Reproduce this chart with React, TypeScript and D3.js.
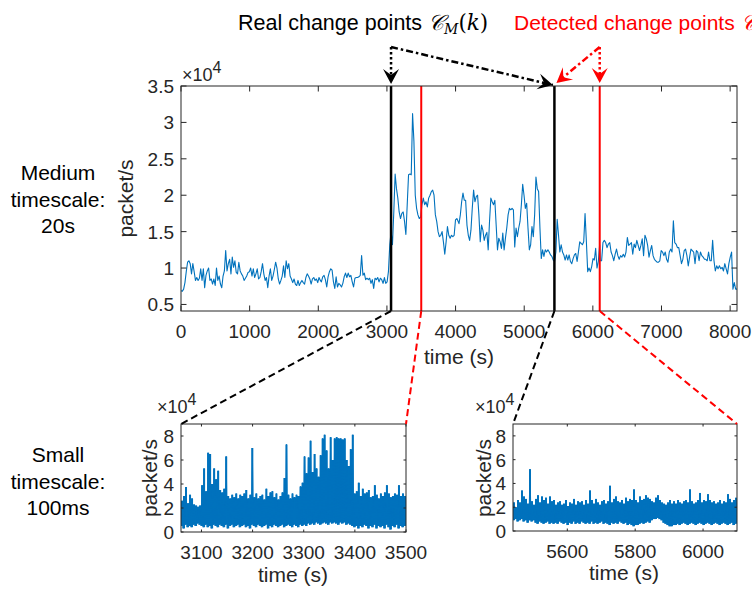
import React from "react";
import * as d3 from "d3";

const W = 752;
const H = 589;

// Medium timescale (20 s bins), packet/s in units of 1e4 in four pieces
const mediumSeg1 = [0.69,0.68,0.71,0.80,0.95,1.08,1.10,1.06,0.92,1.06,0.95,0.83,0.87,0.83,0.86,0.99,0.83,0.99,0.73,0.90,0.96,1.0,0.83,0.85,0.78,0.85,0.76,1.0,0.83,0.89,0.78,0.73,0.89,0.96,1.24,0.96,1.06,1.12,0.92,1.15,1.01,1.10,0.94,0.92,1.08,0.96,0.92,0.89,0.83,0.86,0.89,0.94,0.95,1.0,0.89,0.99,0.87,0.92,0.99,0.85,0.87,0.95,1.06,0.92,0.83,0.87,0.73,0.89,0.99,0.83,0.89,0.98,1.08,1.0,0.85,0.78,0.83,0.89,1.03,0.87,1.10,0.99,1.06,0.89,0.85,0.80,0.85,0.78,0.76,0.83,0.76,0.80,0.83,0.80,0.78,0.87,0.92,0.89,0.85,0.78,0.85,0.87,0.83,0.85,0.80,0.87,0.83];
const mediumSeg2 = [0.81,0.88,0.90,0.84,0.74,0.88,0.95,0.99,0.97,0.81,0.72,0.88,0.74,0.79,0.77,0.74,0.79,0.88,0.93,0.87,0.93,0.88,0.90,0.81,0.74,0.86,0.87,0.87,0.88,0.90,1.17,0.90,0.93,0.84,0.86,0.84,0.86,0.79,0.84,0.72,0.86,0.84,0.87,0.81,0.86,0.84,0.79,0.87,0.79,0.81,0.95,1.32,1.50,1.32,1.77,2.29,2.09,1.96,1.77,1.68,1.75,1.77,1.64,1.46,1.87,2.28,2.29,2.28,3.12,2.74,2.00,1.82,1.73,1.68,1.70,1.87,1.96,1.87,1.91,1.84,1.96,2.00,2.05,2.07,2.00,1.73,1.64,1.50,1.43,1.45,1.50,1.36,1.19,1.36,1.57,1.45,1.41,1.45,1.43,1.45,1.66,1.68,1.64];
const mediumSeg3 = [1.61,1.73,1.91,2.03,1.93,1.93,1.59,1.45,1.38,1.52,1.82,2.07,1.91,1.98,2.00,1.73,1.36,1.59,1.52,1.38,1.45,1.49,1.25,1.64,1.96,1.91,1.87,1.93,1.59,1.25,1.41,1.36,1.27,1.48,1.25,1.41,1.55,1.73,1.82,1.80,1.82,1.80,1.29,1.55,1.43,1.55,1.64,1.87,2.15,2.00,1.82,1.89,1.55,1.25,1.32,1.57,1.43,1.73,2.25,2.09,2.05,1.55,1.13,1.25,1.16,1.25,1.22,1.25,1.22,1.18,1.16,1.11,1.09,1.22,1.67,1.45,1.22,1.32,1.22,1.18,1.11,1.18,1.11,1.18,1.09,1.06,1.13,1.18,1.20,1.09,1.22,1.36,1.34,1.32,1.36,1.75,1.36,0.95,1.00,0.95,1.02,1.13,1.11,1.27,1.00,1.09,1.32];
const mediumSeg4 = [1.10,1.10,1.35,1.38,1.35,1.28,1.33,1.35,1.22,1.17,1.10,1.19,1.26,1.17,1.12,1.17,1.15,1.19,1.15,1.22,1.42,1.31,1.33,1.35,1.19,1.33,1.28,1.38,1.31,1.24,1.31,1.40,1.17,1.45,1.40,1.31,1.15,1.24,1.31,1.17,1.12,1.10,1.08,1.08,1.10,1.24,1.22,1.17,1.22,1.12,1.08,1.22,1.26,1.22,1.65,1.35,1.33,1.28,1.28,1.17,1.06,1.12,1.24,1.26,1.17,1.03,1.15,1.26,1.24,1.22,1.06,1.24,1.22,1.10,1.22,1.17,1.15,1.12,1.12,1.10,1.22,1.10,1.10,1.38,1.10,0.96,1.03,0.99,1.03,0.99,1.01,0.96,1.06,0.99,0.92,1.06,1.15,1.22,0.71,0.80,0.71,0.71];
const mediumSegSpans = [[0, 2030], [2045, 4038], [4050, 6099], [6108, 8100]];

// change points (s)
const realChangePoints = [3060, 5440];
const detectedChangePoints = [3500, 6100];

// Small timescale (100 ms) envelopes per bin (1e4 packet/s): lower and upper extent
const small1Window = [3060, 3500];
const small1High = [2.6,3.0,3.75,2.4,3.1,2.8,2.3,2.2,2.1,2.2,3.9,5.3,3.4,6.6,6.5,4.0,5.3,4.4,5.1,3.5,3.3,3.6,6.3,3.0,2.8,3.1,2.9,3.2,2.8,3.1,3.0,3.2,3.5,2.8,3.1,7.0,2.9,3.2,2.8,3.0,3.1,2.7,3.6,3.0,3.3,3.4,2.9,3.2,2.7,3.0,3.3,4.5,7.3,3.1,2.8,3.2,2.9,3.1,3.0,3.8,4.1,6.3,4.9,6.2,7.6,5.0,6.5,5.3,4.6,6.4,7.8,8.1,6.8,5.3,7.9,6.0,7.8,7.9,7.8,7.8,7.7,7.8,6.0,5.5,6.9,8.1,3.2,3.4,4.1,3.0,3.6,3.2,3.3,3.5,2.9,3.0,3.9,3.1,2.8,3.2,3.0,3.3,3.9,3.2,2.9,3.0,3.2,3.1,3.9,3.0,3.2,3.0];
const small1Low = [0.5,0.3,0.6,0.4,0.5,0.4,0.6,0.5,0.7,0.6,0.5,0.4,0.6,0.4,0.5,0.3,0.6,0.5,0.4,0.6,0.5,0.4,0.6,0.3,0.5,0.6,0.4,0.5,0.6,0.4,0.5,0.6,0.4,0.5,0.3,0.6,0.5,0.4,0.6,0.5,0.4,0.5,0.6,0.3,0.5,0.4,0.6,0.5,0.4,0.5,0.6,0.4,0.5,0.6,0.5,0.4,0.6,0.5,0.4,0.6,0.5,0.6,0.5,0.7,0.6,0.7,0.6,0.8,0.7,0.6,0.7,0.8,0.7,0.6,0.8,0.7,0.8,0.7,0.6,0.8,0.7,0.8,0.6,0.7,0.6,0.5,0.4,0.5,0.3,0.5,0.4,0.6,0.5,0.3,0.5,0.4,0.6,0.3,0.5,0.4,0.5,0.3,0.6,0.4,0.2,0.5,0.4,0.6,0.3,0.5,0.4,0.5];

const small2Window = [5440, 6100];
const small2High = [2.4,2.0,2.6,2.4,3.4,2.9,2.7,2.3,5.2,2.5,2.2,2.7,3.0,2.4,2.9,2.6,2.8,2.3,2.9,2.5,2.6,2.2,2.4,2.5,2.2,2.3,2.6,2.1,2.4,2.3,2.7,2.2,2.5,2.4,2.5,2.2,2.6,2.3,3.4,2.6,2.3,2.7,2.4,2.2,2.5,2.6,2.3,2.5,3.8,2.4,2.7,2.9,2.5,2.4,2.6,2.3,2.8,2.5,2.7,2.6,3.5,2.6,2.4,2.9,2.6,2.7,3.0,2.8,2.7,2.5,2.4,2.8,3.0,2.6,2.4,2.3,2.2,2.4,2.6,2.3,2.5,2.3,2.6,2.4,2.3,2.5,2.6,2.4,3.5,2.5,2.3,2.4,2.6,3.2,2.4,2.6,2.5,3.1,2.6,2.4,2.5,2.3,2.4,2.6,2.3,2.5,2.4,3.1,2.7,2.4,2.6,2.8];
const small2Low = [0.9,1.0,0.8,0.9,1.0,0.8,0.9,0.7,0.9,0.8,0.9,0.7,0.6,0.8,0.7,0.6,0.7,0.8,0.6,0.7,0.6,0.7,0.6,0.8,0.7,0.6,0.7,0.5,0.7,0.6,0.8,0.6,0.7,0.6,0.8,0.7,0.6,0.7,0.6,0.8,0.6,0.7,0.6,0.7,0.8,0.6,0.7,0.6,0.5,0.7,0.6,0.7,0.6,0.8,0.7,0.6,0.7,0.5,0.6,0.5,0.4,0.5,0.5,0.6,0.7,0.6,0.7,0.8,0.7,0.9,1.0,1.0,1.1,1.0,0.9,0.7,0.6,0.5,0.4,0.4,0.5,0.5,0.6,0.5,0.6,0.7,0.6,0.5,0.6,0.7,0.6,0.5,0.6,0.7,0.6,0.5,0.6,0.7,0.6,0.5,0.6,0.7,0.6,0.5,0.6,0.7,0.6,0.5,0.6,0.7,0.5,0.6];

// ticks
const mediumXTicks = [0, 1000, 2000, 3000, 4000, 5000, 6000, 7000, 8000];
const mediumYTicks = [0.5, 1, 1.5, 2, 2.5, 3, 3.5];
const small1XTicks = [3100, 3200, 3300, 3400, 3500];
const small2XTicks = [5600, 5800, 6000];
const smallYTicks = [0, 2, 4, 6, 8];

const BLUE = "#0072BD";
const AX = "#262626";
const FONT = "'Liberation Sans', Arial, Helvetica, sans-serif";
const MATH = "'DejaVu Serif', 'Liberation Serif', serif";

type Sc = d3.ScaleLinear<number, number>;

function AxesBox({ x, y, xTicks, yTicks, tickLen, yFmt, id }: { x: Sc; y: Sc; xTicks: number[]; yTicks: number[]; tickLen: number; yFmt: (v: number) => string; id: string }) {
  const [x0, x1] = x.range();
  const [y0, y1] = y.range(); // y0 bottom, y1 top
  return (
    <g>
      <rect x={x0} y={y1} width={x1 - x0} height={y0 - y1} fill="none" stroke={AX} strokeWidth={1} />
      {xTicks.map((t) => (
        <g key={id + "x" + t}>
          <line x1={x(t)} x2={x(t)} y1={y0} y2={y0 - tickLen} stroke={AX} />
          <line x1={x(t)} x2={x(t)} y1={y1} y2={y1 + tickLen} stroke={AX} />
          <text x={x(t)} y={y0 + 27} textAnchor="middle" fontSize={19} fill={AX} fontFamily={FONT}>{t}</text>
        </g>
      ))}
      {yTicks.map((t) => (
        <g key={id + "y" + t}>
          <line x1={x0} x2={x0 + tickLen} y1={y(t)} y2={y(t)} stroke={AX} />
          <line x1={x1} x2={x1 - tickLen} y1={y(t)} y2={y(t)} stroke={AX} />
          <text x={x0 - 7} y={y(t) + 7} textAnchor="end" fontSize={19} fill={AX} fontFamily={FONT}>{yFmt(t)}</text>
        </g>
      ))}
    </g>
  );
}

function arrowHead(tipX: number, tipY: number, fromX: number, fromY: number, L = 15, w = 8) {
  const dx = tipX - fromX, dy = tipY - fromY;
  const len = Math.hypot(dx, dy);
  const ux = dx / len, uy = dy / len;
  const px = -uy, py = ux;
  const bx = tipX - ux * L, by = tipY - uy * L;
  const nx = tipX - ux * L * 0.6, ny = tipY - uy * L * 0.6;
  return `M${tipX},${tipY}L${bx + px * w},${by + py * w}L${nx},${ny}L${bx - px * w},${by - py * w}Z`;
}

type Bin = { t: number; lo: number; hi: number };

function envelopeBins(win: number[], low: number[], high: number[]): Bin[] {
  const n = low.length;
  const bw = (win[1] - win[0]) / n;
  const bins: Bin[] = low.map((lo, i) => ({ t: win[0] + i * bw, lo, hi: high[i] }));
  bins.push({ t: win[1], lo: low[n - 1], hi: high[n - 1] });
  return bins;
}

function envelopeArea(x: Sc, y: Sc, bins: Bin[]) {
  return d3.area<Bin>().curve(d3.curveStepAfter).x((d) => x(d.t)).y0((d) => y(d.lo)).y1((d) => y(d.hi))(bins) || "";
}

function envelopeZigzag(x: Sc, y: Sc, bins: Bin[]) {
  const pts: [number, number][] = [];
  for (let i = 0; i < bins.length - 1; i++) {
    const mid = (bins[i].t + bins[i + 1].t) / 2;
    pts.push([bins[i].t, bins[i].lo]);
    pts.push([mid, bins[i].hi]);
  }
  return d3.line<[number, number]>().x((d) => x(d[0])).y((d) => y(d[1]))(pts) || "";
}

function XTen({ x, y }: { x: number; y: number }) {
  return (
    <text x={x} y={y} fontSize={18} fontFamily={FONT} fill={AX}>×10<tspan fontSize={16} dy={-8}>4</tspan></text>
  );
}

export default function App() {
  const xM = d3.scaleLinear().domain([0, 8100]).range([181, 737]);
  const yM = d3.scaleLinear().domain([0.41, 3.5]).range([311, 86]);
  const xS1 = d3.scaleLinear().domain(small1Window).range([181, 406]);
  const yS1 = d3.scaleLinear().domain([0, 9]).range([532, 424]);
  const xS2 = d3.scaleLinear().domain(small2Window).range([513, 737]);
  const yS2 = d3.scaleLinear().domain([0, 9]).range([531, 424]);

  const segs = [mediumSeg1, mediumSeg2, mediumSeg3, mediumSeg4];
  const mediumPts: [number, number][] = [];
  segs.forEach((s, k) => {
    const [a, b] = mediumSegSpans[k];
    s.forEach((v, i) => mediumPts.push([a + ((b - a) * i) / (s.length - 1), v]));
  });
  const mediumPath = d3.line<[number, number]>().x((d) => xM(d[0])).y((d) => yM(d[1]))(mediumPts) || "";

  const bins1 = envelopeBins(small1Window, small1Low, small1High);
  const bins2 = envelopeBins(small2Window, small2Low, small2High);

  const mTop = yM.range()[1];
  const mBot = yM.range()[0];
  const s1Top = yS1.range()[1];
  const s2Top = yS2.range()[1];

  // annotation arrows
  const cornerY = 47;
  const rc0 = xM(realChangePoints[0]);
  const rc1 = xM(realChangePoints[1]);
  const dc1 = xM(detectedChangePoints[1]);
  const blackTip1: [number, number] = [rc0, mTop - 2];
  const blackTip2: [number, number] = [rc1 - 1.5, mTop - 1];
  const redTip1: [number, number] = [rc1 + 2, mTop - 3];
  const redTip2: [number, number] = [dc1, mTop - 3];

  return (
    <svg width={W} height={H} style={{ position: "absolute", left: 0, top: 0, background: "#fff" }} xmlns="http://www.w3.org/2000/svg">
      <defs>
        <clipPath id="cm"><rect x={181} y={86} width={556} height={225} /></clipPath>
        <clipPath id="cs1"><rect x={181} y={424} width={225} height={108} /></clipPath>
        <clipPath id="cs2"><rect x={513} y={424} width={224} height={107} /></clipPath>
      </defs>

      {/* titles */}
      <text x={238} y={30} fontSize={21.5} fontFamily={FONT} fill="#000">
        Real change points <tspan fontFamily={MATH} fontStyle="italic">𝒞</tspan>
        <tspan fontFamily={MATH} fontStyle="italic" fontSize={14} dy={4}>M</tspan>
        <tspan fontFamily={MATH} dy={-4}>(</tspan><tspan fontFamily={MATH} fontStyle="italic">k</tspan><tspan fontFamily={MATH}>)</tspan>
      </text>
      <text x={514} y={30} fontSize={21} fontFamily={FONT} fill="#FF0000">
        Detected change points <tspan fontFamily={MATH} fontStyle="italic">𝒞̂</tspan>
        <tspan fontFamily={MATH} fontStyle="italic" fontSize={14} dy={4}>M</tspan>
        <tspan fontFamily={MATH} dy={-4}>(k)</tspan>
      </text>

      {/* row labels */}
      {["Medium", "timescale:", "20s"].map((s, i) => (
        <text key={"m" + i} x={58} y={180 + i * 26.7} textAnchor="middle" fontSize={21} fontFamily={FONT} fill="#000">{s}</text>
      ))}
      {["Small", "timescale:", "100ms"].map((s, i) => (
        <text key={"s" + i} x={58} y={462 + i * 26.7} textAnchor="middle" fontSize={21} fontFamily={FONT} fill="#000">{s}</text>
      ))}

      {/* medium plot */}
      <g clipPath="url(#cm)">
        <path d={mediumPath} fill="none" stroke={BLUE} strokeWidth={1.1} strokeLinejoin="round" />
      </g>
      {realChangePoints.map((t) => (
        <line key={"rc" + t} x1={xM(t)} x2={xM(t)} y1={mTop} y2={mBot} stroke="#000" strokeWidth={2.5} />
      ))}
      {detectedChangePoints.map((t) => (
        <line key={"dc" + t} x1={xM(t)} x2={xM(t)} y1={mTop} y2={mBot} stroke="#FF0000" strokeWidth={2} />
      ))}
      <AxesBox id="m" x={xM} y={yM} xTicks={mediumXTicks} yTicks={mediumYTicks} tickLen={5.5} yFmt={(v) => String(v)} />
      <XTen x={182} y={81} />
      <text x={459} y={364} textAnchor="middle" fontSize={21} fontFamily={FONT} fill={AX}>time (s)</text>
      <text transform={`translate(133,${(mTop + mBot) / 2}) rotate(-90)`} textAnchor="middle" fontSize={21} fontFamily={FONT} fill={AX}>packet/s</text>

      {/* small plot 1 */}
      <g clipPath="url(#cs1)">
        <path d={envelopeArea(xS1, yS1, bins1)} fill={BLUE} stroke="none" />
        <path d={envelopeZigzag(xS1, yS1, bins1)} fill="none" stroke={BLUE} strokeWidth={1} />
      </g>
      <AxesBox id="s1" x={xS1} y={yS1} xTicks={small1XTicks} yTicks={smallYTicks} tickLen={2.5} yFmt={(v) => String(v)} />
      <XTen x={157} y={413} />
      <text x={293} y={582} textAnchor="middle" fontSize={21} fontFamily={FONT} fill={AX}>time (s)</text>
      <text transform={`translate(157,478) rotate(-90)`} textAnchor="middle" fontSize={21} fontFamily={FONT} fill={AX}>packet/s</text>

      {/* small plot 2 */}
      <g clipPath="url(#cs2)">
        <path d={envelopeArea(xS2, yS2, bins2)} fill={BLUE} stroke="none" />
        <path d={envelopeZigzag(xS2, yS2, bins2)} fill="none" stroke={BLUE} strokeWidth={1} />
      </g>
      <AxesBox id="s2" x={xS2} y={yS2} xTicks={small2XTicks} yTicks={smallYTicks} tickLen={2.5} yFmt={(v) => String(v)} />
      <XTen x={475} y={413} />
      <text x={624} y={580} textAnchor="middle" fontSize={21} fontFamily={FONT} fill={AX}>time (s)</text>
      <text transform={`translate(491,478) rotate(-90)`} textAnchor="middle" fontSize={21} fontFamily={FONT} fill={AX}>packet/s</text>

      {/* zoom connectors */}
      <line x1={xM(realChangePoints[0])} y1={mBot} x2={xS1.range()[0]} y2={s1Top} stroke="#000" strokeWidth={2} strokeDasharray="7,4" />
      <line x1={xM(detectedChangePoints[0])} y1={mBot} x2={xS1.range()[1]} y2={s1Top} stroke="#FF0000" strokeWidth={2} strokeDasharray="7,4" />
      <line x1={xM(realChangePoints[1])} y1={mBot} x2={xS2.range()[0]} y2={s2Top} stroke="#000" strokeWidth={2} strokeDasharray="7,4" />
      <line x1={xM(detectedChangePoints[1])} y1={mBot} x2={xS2.range()[1]} y2={s2Top} stroke="#FF0000" strokeWidth={2} strokeDasharray="7,4" />

      {/* annotation arrows */}
      <line x1={rc0} y1={cornerY} x2={blackTip1[0]} y2={blackTip1[1] - 8} stroke="#000" strokeWidth={2.5} strokeDasharray="2.5,2.5" />
      <path d={arrowHead(blackTip1[0], blackTip1[1], rc0, cornerY)} fill="#000" />
      <line x1={rc0} y1={cornerY} x2={blackTip2[0]} y2={blackTip2[1]} stroke="#000" strokeWidth={2.5} strokeDasharray="7,3,2.5,3" />
      <path d={arrowHead(blackTip2[0], blackTip2[1], rc0, cornerY)} fill="#000" />
      <line x1={dc1} y1={cornerY} x2={redTip2[0]} y2={redTip2[1] - 8} stroke="#FF0000" strokeWidth={2.5} strokeDasharray="2.5,2.5" />
      <path d={arrowHead(redTip2[0], redTip2[1], dc1, cornerY)} fill="#FF0000" />
      <line x1={dc1} y1={cornerY} x2={redTip1[0]} y2={redTip1[1]} stroke="#FF0000" strokeWidth={2.5} strokeDasharray="7,3,2.5,3" />
      <path d={arrowHead(redTip1[0], redTip1[1], dc1, cornerY)} fill="#FF0000" />
    </svg>
  );
}
